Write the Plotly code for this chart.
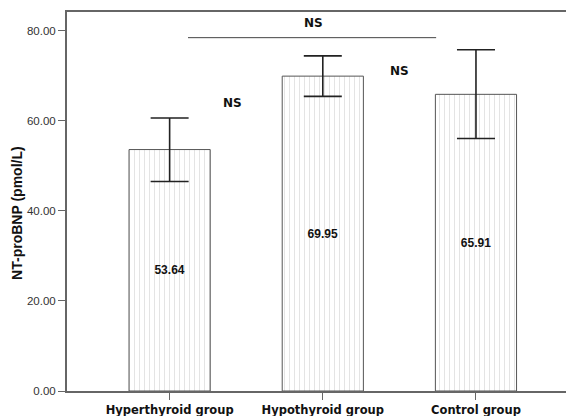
import plotly.graph_objects as go

categories = ["Hyperthyroid group", "Hypothyroid group", "Control group"]
means = [53.64, 69.95, 65.91]
err_plus = [7.0, 4.5, 9.9]
err_minus = [7.1, 4.5, 9.8]
value_labels = ["53.64", "69.95", "65.91"]
y_ticks = [0, 20, 40, 60, 80]
y_tick_labels = ["0.00", "20.00", "40.00", "60.00", "80.00"]

fig = go.Figure()
fig.add_trace(go.Bar(
    x=[0, 1, 2], y=means, width=0.53,
    text=["<b>" + v + "</b>" for v in value_labels], textposition="inside", insidetextanchor="middle",
    textangle=0,
    textfont=dict(family="Liberation Sans", size=12, color="#111"),
    marker=dict(color="white", line=dict(color="#555", width=1),
                pattern=dict(shape="|", size=5, solidity=0.18, fgcolor="#c4c4c4", bgcolor="white")),
    error_y=dict(type="data", symmetric=False, array=err_plus, arrayminus=err_minus,
                 color="#222", thickness=1.6, width=19),
    showlegend=False,
))

fig.add_shape(type="line", x0=0.12, x1=1.74, y0=78.5, y1=78.5, xref="x", yref="y",
              line=dict(color="#444", width=1))

ns_font = dict(family="DejaVu Sans", size=12, color="#111")
fig.add_annotation(x=0.94, y=81.8, text="<b>NS</b>", showarrow=False, font=ns_font)
fig.add_annotation(x=0.41, y=64.0, text="<b>NS</b>", showarrow=False, font=ns_font)
fig.add_annotation(x=1.5, y=71.2, text="<b>NS</b>", showarrow=False, font=ns_font)

fig.add_annotation(x=-0.0986, y=0.47, xref="paper", yref="paper", text="<b>NT-proBNP (pmol/L)</b>",
                   textangle=-90, showarrow=False, xanchor="center", yanchor="middle",
                   font=dict(family="Liberation Sans", size=14, color="#111"))

fig.update_layout(
    width=566, height=408,
    margin=dict(l=59, r=0, t=4, b=25),
    paper_bgcolor="white", plot_bgcolor="white",
    bargap=0.47,
)
fig.update_xaxes(
    range=[-0.67, 2.64], tickvals=[0, 1, 2],
    ticktext=["<b>" + c + "</b>" for c in categories],
    tickfont=dict(family="DejaVu Sans", size=11.5, color="#111"),
    showline=True, linecolor="#666", linewidth=2, mirror=True,
    ticks="outside", ticklen=7, tickcolor="#666", tickwidth=1,
    showgrid=False, zeroline=False, automargin=False,
)
fig.update_yaxes(
    range=[0, 84.2], tickvals=y_ticks, ticktext=y_tick_labels,
    tickfont=dict(family="Liberation Sans", size=11.5, color="#333"),
    showline=True, linecolor="#666", linewidth=2,
    ticks="outside", ticklen=7, tickcolor="#666", tickwidth=1,
    showgrid=False, zeroline=False, automargin=False,
)

fig.write_html("out.html")
